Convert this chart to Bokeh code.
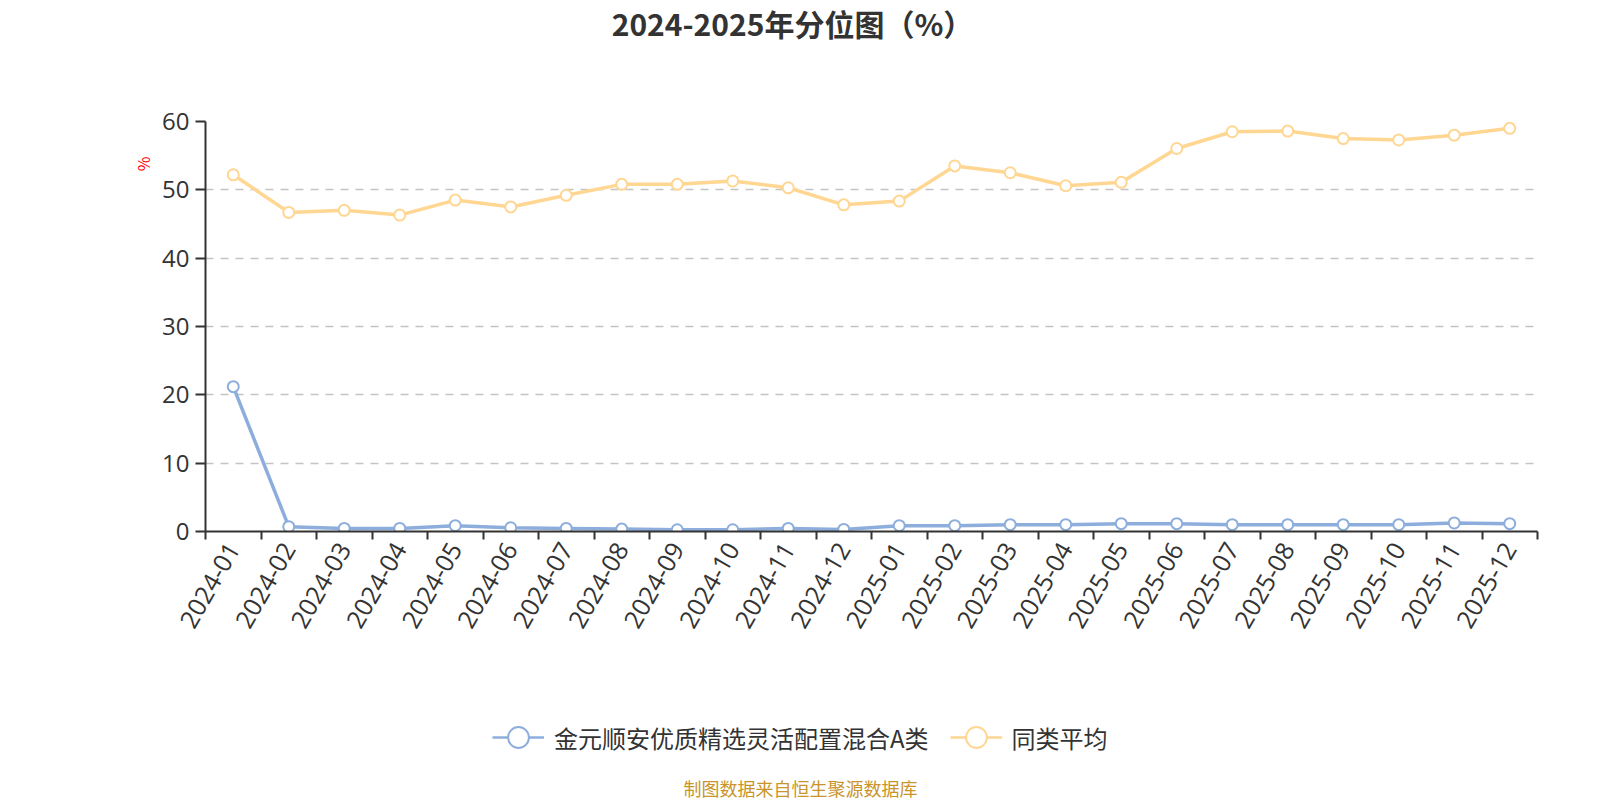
import math
from bokeh.plotting import figure
from bokeh.layouts import column
from bokeh.models import (Range1d, FixedTicker, Legend, LegendItem, Label, Title,
                          ColumnDataSource)
from bokeh.embed import file_html
from bokeh.resources import INLINE

months = ["2024-01", "2024-02", "2024-03", "2024-04", "2024-05", "2024-06",
          "2024-07", "2024-08", "2024-09", "2024-10", "2024-11", "2024-12",
          "2025-01", "2025-02", "2025-03", "2025-04", "2025-05", "2025-06",
          "2025-07", "2025-08", "2025-09", "2025-10", "2025-11", "2025-12"]
fund = [21.2, 0.7, 0.45, 0.45, 0.85, 0.55, 0.45, 0.35, 0.25, 0.25, 0.45, 0.3,
        0.85, 0.85, 1.0, 1.0, 1.15, 1.15, 1.0, 1.0, 1.0, 1.0, 1.25, 1.15]
peer = [52.2, 46.7, 47.0, 46.3, 48.5, 47.5, 49.2, 50.8, 50.8, 51.3, 50.3, 47.8,
        48.35, 53.5, 52.5, 50.6, 51.1, 56.05, 58.5, 58.6, 57.5, 57.3, 58.0, 59.0]
y_ticks = [0, 10, 20, 30, 40, 50, 60]
fund_name = "金元顺安优质精选灵活配置混合A类"
peer_name = "同类平均"
title_text = "2024-2025年分位图（%）"
source_text = "制图数据来自恒生聚源数据库"
y_unit = "%"

BLUE = "#8daedc"
ORANGE = "#ffd692"
W = 1600
LEFT = 205
RIGHT = 1537
TOP_H = 90
MAIN_H = 570
BOT_H = 800 - TOP_H - MAIN_H


def blank(h):
    # frames are aligned with the main chart's frame (x from LEFT to RIGHT)
    f = figure(width=W, height=h, output_backend="svg", toolbar_location=None,
               x_range=Range1d(LEFT, RIGHT), y_range=Range1d(0, h),
               min_border_left=LEFT, min_border_right=W - RIGHT,
               min_border_top=0, min_border_bottom=0,
               x_axis_type=None, y_axis_type=None)
    f.outline_line_color = None
    f.xgrid.grid_line_color = None
    f.ygrid.grid_line_color = None
    return f


# ---- top strip: title ----
pt = blank(TOP_H)
pt.add_layout(Label(x=792, y=TOP_H - 22, text=title_text,
                    text_align="center", text_baseline="middle",
                    text_font="Noto Sans CJK SC", text_font_size="30px",
                    text_font_style="bold", text_color="#333333"))

# ---- main chart ----
xs = [i + 0.5 for i in range(len(months))]
src = ColumnDataSource(dict(x=xs, fund=fund, peer=peer))

p = figure(width=W, height=MAIN_H, output_backend="svg", toolbar_location=None,
           x_range=Range1d(0, len(months)), y_range=Range1d(0, 60),
           min_border_left=LEFT, min_border_right=W - RIGHT, min_border_top=121 - TOP_H,
           min_border_bottom=TOP_H + MAIN_H - 531)
p.outline_line_color = None

xa = p.xaxis[0]
xa.ticker = FixedTicker(ticks=xs, minor_ticks=list(range(len(months) + 1)))
xa.major_label_overrides = {x: m for x, m in zip(xs, months)}
xa.major_label_orientation = math.pi / 3
xa.major_tick_out = 0
xa.major_tick_in = 0
xa.minor_tick_out = 8
xa.minor_tick_in = 0
xa.minor_tick_line_color = "#333333"
xa.minor_tick_line_width = 2
xa.axis_line_color = "#333333"
xa.axis_line_width = 2
xa.major_label_standoff = 5
xa.major_label_text_font = "Open Sans"
xa.major_label_text_font_size = "25px"
xa.major_label_text_color = "#333333"

ya = p.yaxis[0]
ya.ticker = FixedTicker(ticks=y_ticks)
ya.minor_tick_out = 0
ya.minor_tick_in = 0
ya.major_tick_out = 10
ya.major_tick_in = 0
ya.major_tick_line_color = "#333333"
ya.major_tick_line_width = 2
ya.axis_line_color = "#333333"
ya.axis_line_width = 2
ya.major_label_standoff = 6
ya.major_label_text_font = "Open Sans"
ya.major_label_text_font_size = "24px"
ya.major_label_text_color = "#333333"

p.add_layout(Title(text=y_unit, align="right", offset=35, text_color="#ff0000",
                   text_font="Noto Sans CJK SC", text_font_size="16px",
                   text_font_style="normal"), "left")

p.xgrid.grid_line_color = None
p.ygrid.ticker = FixedTicker(ticks=y_ticks)
p.ygrid.grid_line_color = "#c4c4c4"
p.ygrid.grid_line_width = 1.6
p.ygrid.grid_line_dash = "8 7"

p.line("x", "fund", source=src, line_color=BLUE, line_width=3.5)
p.scatter("x", "fund", source=src, size=11, fill_color="white",
          line_color=BLUE, line_width=2)
p.line("x", "peer", source=src, line_color=ORANGE, line_width=3.5)
p.scatter("x", "peer", source=src, size=11, fill_color="white",
          line_color=ORANGE, line_width=2)

# ---- bottom strip: legend + source ----
pb = blank(BOT_H)
proxy = ColumnDataSource(dict(x=[float("nan")], y=[float("nan")]))  # legend-only proxies
l1 = pb.line("x", "y", source=proxy, line_color=BLUE, line_width=2.5)
d1 = pb.scatter("x", "y", source=proxy, size=22, fill_color="white", line_color=BLUE,
                line_width=2)
l2 = pb.line("x", "y", source=proxy, line_color=ORANGE, line_width=2.5)
d2 = pb.scatter("x", "y", source=proxy, size=22, fill_color="white", line_color=ORANGE,
                line_width=2)

legend = Legend(items=[LegendItem(label=fund_name, renderers=[l1, d1]),
                       LegendItem(label=peer_name, renderers=[l2, d2])],
                orientation="horizontal", location=(492 - LEFT, 800 - 737 - 27),
                glyph_width=52, glyph_height=54, label_standoff=10, spacing=21,
                padding=0, margin=0, border_line_color=None,
                background_fill_alpha=0,
                label_text_font="Noto Sans CJK SC", label_text_font_size="24px",
                label_text_color="#333333")
pb.add_layout(legend, "center")
pb.add_layout(Label(x=800, y=13, text=source_text,
                    text_align="center", text_baseline="middle",
                    text_font="Noto Sans CJK SC", text_font_size="18px",
                    text_color="#c9952b"))

layout = column(pt, p, pb, spacing=0)
open("out.html", "w").write(file_html(layout, INLINE))
